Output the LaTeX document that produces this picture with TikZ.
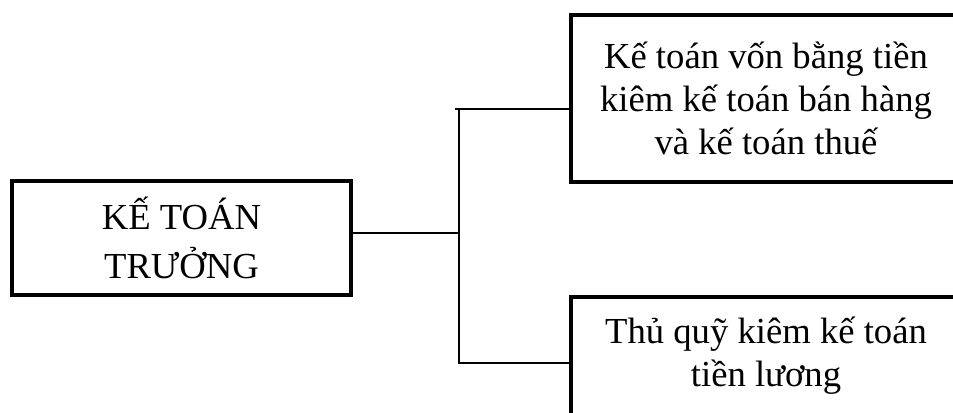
\documentclass[tikz,border=0pt]{standalone}
\usepackage{fontspec}
\setmainfont{Liberation Serif}
\usetikzlibrary{positioning}

\begin{document}
\begin{tikzpicture}[
  x=0.75pt, y=-0.75pt,
  every node/.style={font=\fontsize{27.5}{32}\selectfont},
  boxthick/.style={draw, line width=3.2pt, align=center, inner sep=0pt},
  link/.style={line width=1pt},
]
  \useasboundingbox (0,0) rectangle (953,412);
  \clip (0,0) rectangle (953,412);

  \node[boxthick, minimum width=254pt, minimum height=85.5pt,
        font=\fontsize{27.5}{36.5}\selectfont] (boss) at (181.5,238) {KẾ TOÁN\\TRƯỞNG};
  \node[boxthick, minimum width=292.5pt, minimum height=125pt] (cash) at (766,98.5)
    {Kế toán vốn bằng tiền\\kiêm kế toán bán hàng\\và kế toán thuế};
  \node[boxthick, minimum width=292.5pt, minimum height=88pt] (fund) at (766,356)
    {Thủ quỹ kiêm kế toán\\tiền lương};

  \coordinate (spinetop) at (459,109);
  \coordinate (spinemid) at (459,233);
  \coordinate (spinebot) at (459,363);

  \draw[link] (boss.east |- spinemid) -- (spinemid);
  \draw[link] ([xshift=-3pt]spinetop) -- (cash.west |- spinetop);
  \draw[link] (spinetop) -- (spinebot) -- (fund.west |- spinebot);
\end{tikzpicture}
\end{document}
